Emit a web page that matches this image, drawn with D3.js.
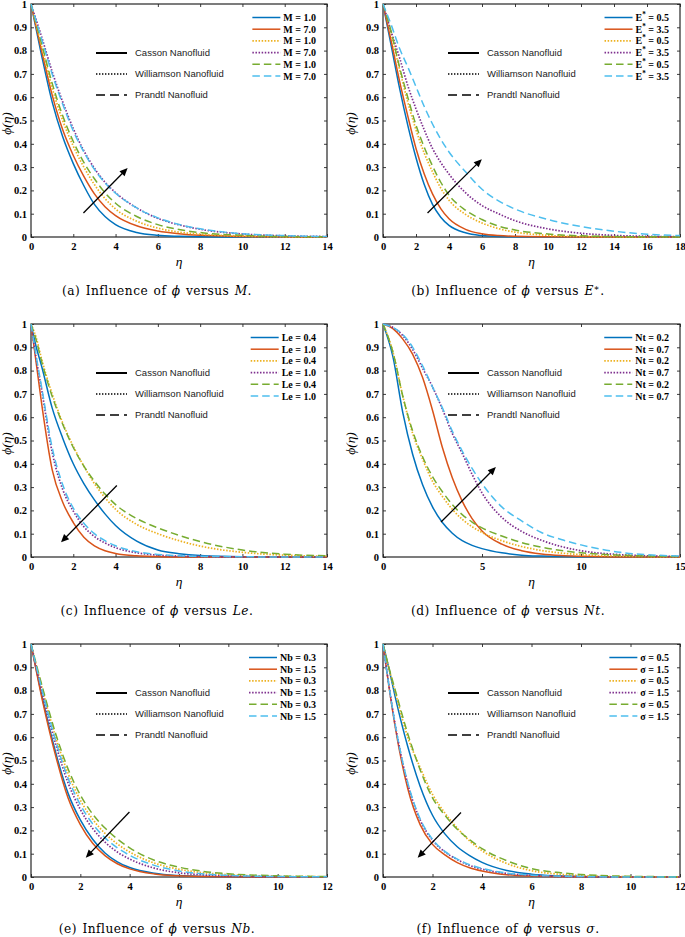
<!DOCTYPE html>
<html><head><meta charset="utf-8">
<script src="https://cdn.jsdelivr.net/npm/d3@7"></script>
<style>body{margin:0;background:#fff} svg{display:block}</style>
</head><body>
<svg id="c" width="685" height="937"></svg>
<script>
// ---------- data ----------
const colors = ["#0072BD","#D95319","#EDB120","#7E2F8E","#77AC30","#4DBEEE"];
const dashes = [null,null,"1.5,1.6","1.5,1.6","7.5,4","7.5,4"];
const fluidNames = ["Casson Nanofluid","Williamson Nanofluid","Prandtl Nanofluid"];
const yTicks = [0,0.1,0.2,0.3,0.4,0.5,0.6,0.7,0.8,0.9,1];

const etaA = [0,0.5,1,1.5,2,2.5,3,3.5,4,5,6,7,8,10,12,14];
const phiA = [
 [1,0.78,0.58,0.43,0.315,0.22,0.14,0.088,0.053,0.019,0.007,0.003,0.001,0,0,0],
 [1,0.8,0.61,0.46,0.35,0.26,0.185,0.13,0.092,0.048,0.026,0.014,0.007,0.002,0.0005,0],
 [1,0.82,0.64,0.5,0.39,0.3,0.225,0.165,0.12,0.068,0.038,0.021,0.012,0.004,0.001,0],
 [1,0.86,0.71,0.58,0.465,0.37,0.295,0.235,0.19,0.125,0.08,0.052,0.033,0.013,0.005,0.002],
 [1,0.83,0.66,0.52,0.41,0.32,0.25,0.19,0.145,0.088,0.053,0.032,0.019,0.007,0.002,0.001],
 [1,0.85,0.7,0.57,0.455,0.365,0.29,0.232,0.188,0.125,0.082,0.054,0.035,0.014,0.006,0.002]
];
const legendA = ["M = 1.0","M = 7.0","M = 1.0","M = 7.0","M = 1.0","M = 7.0"];
const xTicksA = [0,2,4,6,8,10,12,14];
const arrowA = [2.48,0.103,4.57,0.296];

const etaB = [0,0.5,1,1.5,2,2.5,3,3.5,4,5,6,7,8,10,12,14,16,18];
const phiB = [
 [1,0.82,0.64,0.48,0.34,0.225,0.14,0.085,0.05,0.018,0.006,0.002,0.001,0,0,0,0,0],
 [1,0.84,0.67,0.52,0.38,0.27,0.185,0.122,0.078,0.033,0.014,0.006,0.003,0.001,0,0,0,0],
 [1,0.87,0.72,0.58,0.46,0.36,0.28,0.21,0.158,0.097,0.06,0.036,0.021,0.007,0.002,0.001,0,0],
 [1,0.88,0.77,0.65,0.55,0.46,0.38,0.32,0.27,0.19,0.135,0.1,0.07,0.035,0.016,0.007,0.003,0.001],
 [1,0.88,0.73,0.6,0.48,0.385,0.305,0.235,0.18,0.115,0.075,0.047,0.03,0.013,0.005,0.002,0.001,0],
 [1,0.91,0.81,0.73,0.645,0.56,0.485,0.42,0.365,0.28,0.205,0.155,0.12,0.075,0.045,0.025,0.012,0.006]
];
const legendB = ["E^* = 0.5","E^* = 3.5","E^* = 0.5","E^* = 3.5","E^* = 0.5","E^* = 3.5"];
const xTicksB = [0,2,4,6,8,10,12,14,16,18];
const arrowB = [2.7,0.103,5.99,0.334];

const etaC = [0,0.25,0.5,1,1.5,2,2.5,3,3.5,4,5,6,7,8,10,12,14];
const phiC = [
 [1,0.9,0.82,0.64,0.51,0.4,0.315,0.245,0.185,0.135,0.068,0.03,0.014,0.006,0.001,0,0],
 [1,0.83,0.66,0.375,0.235,0.148,0.085,0.048,0.027,0.015,0.005,0.002,0,0,0,0,0],
 [1,0.94,0.85,0.7,0.575,0.475,0.39,0.315,0.255,0.205,0.14,0.1,0.07,0.047,0.02,0.008,0.003],
 [1,0.85,0.72,0.45,0.29,0.197,0.13,0.088,0.06,0.04,0.018,0.008,0.004,0.002,0,0,0],
 [1,0.93,0.84,0.69,0.57,0.47,0.39,0.325,0.27,0.225,0.165,0.125,0.093,0.066,0.03,0.012,0.005],
 [1,0.86,0.73,0.47,0.31,0.21,0.145,0.1,0.07,0.048,0.023,0.011,0.005,0.003,0.001,0,0]
];
const legendC = ["Le = 0.4","Le = 1.0","Le = 0.4","Le = 1.0","Le = 0.4","Le = 1.0"];
const xTicksC = [0,2,4,6,8,10,12,14];
const arrowC = [4.06,0.307,1.42,0.063];

const etaD = [0,0.5,1,1.5,2,2.5,3,3.5,4,4.5,5,6,7,8,9,10,12,15];
const phiD = [
 [1,0.86,0.62,0.44,0.31,0.215,0.148,0.102,0.07,0.05,0.036,0.018,0.008,0.004,0.002,0.001,0,0],
 [1,0.98,0.935,0.87,0.77,0.63,0.47,0.34,0.24,0.165,0.112,0.055,0.027,0.013,0.006,0.003,0,0],
 [1,0.88,0.69,0.53,0.42,0.325,0.26,0.205,0.162,0.13,0.105,0.07,0.045,0.028,0.017,0.01,0.004,0.001],
 [1,0.985,0.95,0.89,0.81,0.73,0.635,0.53,0.445,0.355,0.275,0.17,0.11,0.072,0.045,0.027,0.01,0.002],
 [1,0.88,0.69,0.54,0.43,0.345,0.28,0.225,0.182,0.15,0.125,0.09,0.062,0.042,0.028,0.018,0.008,0.002],
 [1,0.985,0.955,0.9,0.82,0.73,0.64,0.54,0.455,0.38,0.315,0.215,0.155,0.105,0.075,0.052,0.02,0.004]
];
const legendD = ["Nt = 0.2","Nt = 0.7","Nt = 0.2","Nt = 0.7","Nt = 0.2","Nt = 0.7"];
const xTicksD = [0,5,10,15];
const arrowD = [2.93,0.15,5.7,0.386];

const etaE = [0,0.5,1,1.5,2,2.5,3,3.5,4,5,6,7,8,10,12];
const phiE = [
 [1,0.75,0.535,0.36,0.245,0.162,0.103,0.065,0.041,0.016,0.006,0.002,0.001,0,0],
 [1,0.74,0.52,0.34,0.225,0.145,0.092,0.057,0.035,0.013,0.005,0.002,0.001,0,0],
 [1,0.79,0.6,0.445,0.33,0.248,0.187,0.142,0.107,0.06,0.033,0.018,0.01,0.003,0.001],
 [1,0.77,0.57,0.405,0.29,0.208,0.15,0.107,0.077,0.038,0.018,0.009,0.004,0.001,0],
 [1,0.8,0.615,0.465,0.352,0.27,0.21,0.163,0.125,0.072,0.042,0.024,0.014,0.005,0.002],
 [1,0.78,0.585,0.425,0.31,0.228,0.168,0.125,0.093,0.05,0.026,0.013,0.007,0.002,0.001]
];
const legendE = ["Nb = 0.3","Nb = 1.5","Nb = 0.3","Nb = 1.5","Nb = 0.3","Nb = 1.5"];
const xTicksE = [0,2,4,6,8,10,12];
const arrowE = [3.99,0.279,2.22,0.083];

const etaF = [0,0.25,0.5,1,1.5,2,2.5,3,3.5,4,5,6,7,8,10,12];
const phiF = [
 [1,0.89,0.77,0.56,0.39,0.265,0.185,0.13,0.092,0.063,0.028,0.012,0.005,0.002,0,0],
 [1,0.81,0.64,0.38,0.225,0.14,0.095,0.062,0.04,0.026,0.01,0.004,0.002,0.001,0,0],
 [1,0.89,0.79,0.6,0.47,0.355,0.275,0.21,0.155,0.113,0.058,0.027,0.013,0.006,0.001,0],
 [1,0.815,0.65,0.4,0.245,0.158,0.108,0.075,0.05,0.034,0.015,0.007,0.003,0.001,0,0],
 [1,0.895,0.8,0.615,0.46,0.34,0.265,0.205,0.16,0.122,0.07,0.036,0.02,0.011,0.003,0.001],
 [1,0.815,0.65,0.405,0.25,0.162,0.11,0.077,0.053,0.037,0.017,0.008,0.004,0.002,0,0]
];
const legendF = ["σ = 0.5","σ = 1.5","σ = 0.5","σ = 1.5","σ = 0.5","σ = 1.5"];
const xTicksF = [0,2,4,6,8,10,12];
const arrowF = [3.15,0.277,1.4,0.083];

// captions: odd-index parts italic, '^' = superscript
const capA = ["(a) Influence of ","ϕ"," versus ","M","."];
const capB = ["(b) Influence of ","ϕ"," versus ","E^∗","."];
const capC = ["(c) Influence of ","ϕ"," versus ","Le","."];
const capD = ["(d) Influence of ","ϕ"," versus ","Nt","."];
const capE = ["(e) Influence of ","ϕ"," versus ","Nb","."];
const capF = ["(f) Influence of ","ϕ"," versus ","σ","."];

// ---------- layout ----------
const L = {x0:31, x1:327, ylab:11, cap:157};
const R = {x0:383, x1:680, ylab:355, cap:508};
const rows = [{y0:4,y1:237,cap:295},{y0:324,y1:557,cap:615},{y0:644,y1:877,cap:933}];

const panels = [
 {eta:etaA, phi:phiA, leg:legendA, xt:xTicksA, arrow:arrowA, cap:capA, col:L, row:rows[0]},
 {eta:etaB, phi:phiB, leg:legendB, xt:xTicksB, arrow:arrowB, cap:capB, col:R, row:rows[0]},
 {eta:etaC, phi:phiC, leg:legendC, xt:xTicksC, arrow:arrowC, cap:capC, col:L, row:rows[1]},
 {eta:etaD, phi:phiD, leg:legendD, xt:xTicksD, arrow:arrowD, cap:capD, col:R, row:rows[1]},
 {eta:etaE, phi:phiE, leg:legendE, xt:xTicksE, arrow:arrowE, cap:capE, col:L, row:rows[2]},
 {eta:etaF, phi:phiF, leg:legendF, xt:xTicksF, arrow:arrowF, cap:capF, col:R, row:rows[2]}
];

const svg = d3.select("#c");
const SERIF = "'Liberation Serif','Times New Roman',serif";
const SANS = "'Liberation Sans',Arial,sans-serif";
const AX = "#262626";

// rich text: '^' marks a one-character superscript; baseline restored on next glyphs
function addRich(t, str, italic, sh) {
  const node = t.node();
  if (node.__pend === undefined) node.__pend = 0;
  const put = (txt, it, sup) => {
    if (!txt) return;
    const s = t.append("tspan").text(txt).style("font-style", it ? "italic" : null);
    const d = node.__pend + (sup ? -sh : 0);
    if (d) s.attr("dy", d);
    if (sup) s.attr("font-size", "72%");
    node.__pend = sup ? sh : 0;
  };
  const parts = str.split("^");
  put(parts[0], italic, false);
  for (let i = 1; i < parts.length; i++) {
    put(parts[i][0], false, true);
    put(parts[i].slice(1), italic, false);
  }
}

panels.forEach(p => {
  const {x0, x1} = p.col, {y0, y1} = p.row;
  const xMax = p.xt[p.xt.length - 1];
  const x = d3.scaleLinear().domain([0, xMax]).range([x0, x1]);
  const y = d3.scaleLinear().domain([0, 1]).range([y1, y0]);
  const g = svg.append("g");

  // axes (inward ticks on all sides)
  const styleAxis = a => {
    a.select(".domain").remove();
    a.selectAll(".tick line").attr("stroke", AX).attr("stroke-width", 0.9);
    a.selectAll(".tick text").attr("fill", "#000").attr("font-family", SERIF)
      .attr("font-weight", "bold").attr("font-size", 10.5);
  };
  g.append("g").attr("transform", `translate(0,${y1})`)
    .call(d3.axisBottom(x).tickValues(p.xt).tickSize(-3).tickPadding(5.5)).call(styleAxis);
  g.append("g").attr("transform", `translate(0,${y0})`)
    .call(d3.axisTop(x).tickValues(p.xt).tickSize(-3).tickFormat("")).call(styleAxis);
  const fy = d => d === 0 ? "0" : d === 1 ? "1" : d3.format(".1f")(d);
  g.append("g").attr("transform", `translate(${x0},0)`)
    .call(d3.axisLeft(y).tickValues(yTicks).tickSize(-3).tickPadding(4).tickFormat(fy)).call(styleAxis);
  g.append("g").attr("transform", `translate(${x1},0)`)
    .call(d3.axisRight(y).tickValues(yTicks).tickSize(-3).tickFormat("")).call(styleAxis);
  g.append("rect").attr("x", x0).attr("y", y0).attr("width", x1 - x0).attr("height", y1 - y0)
    .attr("fill", "none").attr("stroke", AX).attr("stroke-width", 1.2);

  // curves
  const line = d3.line().x(d => x(d.e)).y(d => y(d.v)).curve(d3.curveMonotoneX);
  p.phi.forEach((vals, k) => {
    const pts = vals.map((v, i) => ({e: p.eta[i], v}));
    g.append("path").attr("d", line(pts)).attr("fill", "none")
      .attr("stroke", colors[k]).attr("stroke-width", k === 2 || k === 3 ? 1.7 : 1.5)
      .attr("stroke-dasharray", dashes[k]);
  });

  // arrow
  const [ax, ay, bx, by] = p.arrow;
  const X1 = x(ax), Y1 = y(ay), X2 = x(bx), Y2 = y(by);
  const ang = Math.atan2(Y2 - Y1, X2 - X1), hl = 8, hw = 3.6;
  g.append("line").attr("x1", X1).attr("y1", Y1)
    .attr("x2", X2 - (hl - 1) * Math.cos(ang)).attr("y2", Y2 - (hl - 1) * Math.sin(ang))
    .attr("stroke", "#000").attr("stroke-width", 1.3);
  const bxp = X2 - hl * Math.cos(ang), byp = Y2 - hl * Math.sin(ang);
  g.append("path").attr("d",
    `M${X2},${Y2}L${bxp + hw * Math.sin(ang)},${byp - hw * Math.cos(ang)}L${bxp - hw * Math.sin(ang)},${byp + hw * Math.cos(ang)}Z`)
    .attr("fill", "#000");

  // inner legend (fluid types)
  fluidNames.forEach((nm, k) => {
    const yy = y0 + 49 + k * 21;
    g.append("line").attr("x1", x0 + 65).attr("x2", x0 + 96).attr("y1", yy).attr("y2", yy)
      .attr("stroke", "#000").attr("stroke-width", k === 0 ? 2 : 1.6)
      .attr("stroke-dasharray", k === 0 ? null : k === 1 ? "1.4,1.6" : "9,5");
    g.append("text").attr("x", x0 + 104).attr("y", yy + 3.4).attr("font-family", SANS)
      .attr("font-size", 9.5).attr("fill", "#222").text(nm);
  });

  // series legend
  const texts = p.leg.map((lab, k) => {
    const t = g.append("text").attr("y", y0 + 13.5 + k * 11.7 + 3.5).attr("font-family", SERIF)
      .attr("font-weight", "bold").attr("font-size", 10).attr("fill", "#000");
    addRich(t, lab, false, 4);
    return t;
  });
  const wMax = d3.max(texts, t => t.node().getComputedTextLength());
  const tx = x1 - 11 - wMax;
  texts.forEach((t, k) => {
    t.attr("x", tx);
    t.select("tspan").attr("x", tx);
    const yy = y0 + 13.5 + k * 11.7;
    g.append("line").attr("x1", tx - 31).attr("x2", tx - 3).attr("y1", yy).attr("y2", yy)
      .attr("stroke", colors[k]).attr("stroke-width", k === 2 || k === 3 ? 1.7 : 1.5)
      .attr("stroke-dasharray", dashes[k]);
  });

  // axis labels
  g.append("text").attr("x", (x0 + x1) / 2).attr("y", y1 + 29).attr("text-anchor", "middle")
    .attr("font-family", SERIF).attr("font-style", "italic").attr("font-size", 13.5).text("η");
  g.append("text").attr("transform", `translate(${p.col.ylab},${(y0 + y1) / 2 + 3}) rotate(-90)`)
    .attr("text-anchor", "middle").attr("font-family", SERIF).attr("font-style", "italic")
    .attr("font-size", 13.5).text("ϕ(η)");

  // caption
  const c = g.append("text").attr("x", p.col.cap).attr("y", p.row.cap).attr("text-anchor", "middle")
    .attr("font-family", "'DejaVu Serif',serif").attr("font-size", 12.2)
    .attr("letter-spacing", 0.5).attr("word-spacing", 1).attr("fill", "#000");
  p.cap.forEach((part, i) => addRich(c, part, i % 2 === 1, 4));
});
</script>
</body></html>
